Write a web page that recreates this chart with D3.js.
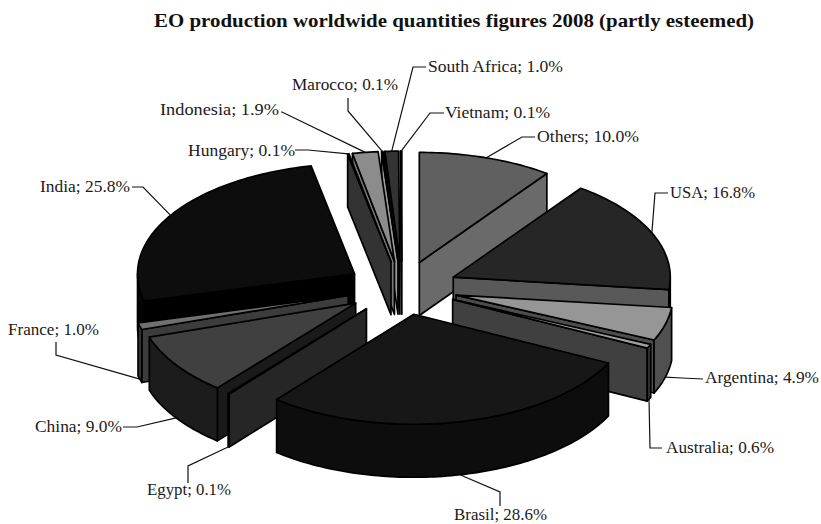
<!DOCTYPE html>
<html>
<head>
<meta charset="utf-8">
<script src="https://cdn.jsdelivr.net/npm/d3@7"></script>
<style type="text/css">
    html, body{ margin: 0; padding: 0; background: #fff }
    text{ font-family: "Liberation Serif", serif; fill: #1a1a1a }
    .label{ font-size: 16.5px }
    .title{ font-size: 19px; font-weight: bold; fill: #111 }
    .leader{ fill: none; stroke: #111; stroke-width: 1.2 }
    .face{ stroke: #000; stroke-width: 1.7; stroke-linejoin: round }
</style>
</head>
<body>
<script type="text/javascript">
var width = 821,
    height = 524;

var titleText = 'EO production worldwide quantities figures 2008 (partly esteemed)';

var countries = ['Others', 'USA', 'Argentina', 'Australia', 'Brasil', 'Egypt', 'China', 'France',
                 'India', 'Hungary', 'Indonesia', 'Marocco', 'South Africa', 'Vietnam'];
var shares = [10.0, 16.8, 4.9, 0.6, 28.6, 0.1, 9.0, 1.0, 25.8, 0.1, 1.9, 0.1, 1.0, 0.1];

// grey per slice: top, cut face, rim
var topGrey = ['#606060', '#262626', '#969696', '#a0a0a0', '#171717', '#555555', '#404040', '#707070',
               '#0d0d0d', '#909090', '#8c8c8c', '#b0b0b0', '#333333', '#111111'];
var cutGrey = ['#6a6a6a', '#595959', '#4d4d4d', '#404040', '#0d0d0d', '#262626', '#1a1a1a', '#3c3c3c',
               '#000000', '#333333', '#777777', '#999999', '#222222', '#000000'];
var rimGrey = ['#6a6a6a', '#0d0d0d', '#505050', '#333333', '#0d0d0d', '#222222', '#1c1c1c', '#333333',
               '#050505', '#333333', '#777777', '#999999', '#222222', '#000000'];

// label left edge, baseline and width, then the leader's bend points
var labelSpots = [[537, 142], [670, 198], [705, 383], [666, 453], [454, 520], [147, 495], [35, 432], [8, 335],
                  [40, 192], [188, 156], [160, 115], [292, 90], [428, 72], [445, 118]];
var labelWidths = [102, 85, 114, 108, 93, 84, 87, 91, 90, 107, 119, 106, 135, 105];
var leaderBends = [[[535, 137], [522, 137]], [[668, 193], [655, 193]], [[703, 379], [682, 378]], [[662, 448], [650, 448]],
                   [[500, 506], [500, 492]], [[188, 483], [188, 466]], [[123, 427], [137, 427]], [[56, 342], [56, 355]],
                   [[132, 187], [143, 187]], [[295, 150], [308, 150]], [[281, 112], [282, 112]], [[348, 98], [348, 111]],
                   [[426, 67], [413, 67]], [[444, 113], [430, 113]]];

var rx = 217, ry = 110, depth = 53, explode = 56, explodeTilt = 0.48;
var cx = 402, cy = 288;

var svg = d3.select('body')
    .append('svg')
        .attr('width', width)
        .attr('height', height);

svg.append('text')
    .attr('class', 'title')
    .attr('x', 154)
    .attr('y', 27)
    .attr('textLength', 600)
    .attr('lengthAdjust', 'spacingAndGlyphs')
    .text(titleText);

var pie = d3.pie().sort(null).startAngle(0).endAngle(2 * Math.PI);
var arcs = pie(shares);

// ellipse scales: unit circle to screen offsets
var sx = d3.scaleLinear().domain([-1, 1]).range([-rx, rx]);
var sy = d3.scaleLinear().domain([-1, 1]).range([-ry, ry]);

arcs.forEach(function(d, i){
    d.index = i;
    d.mid = (d.startAngle + d.endAngle) / 2;
    d.ax = cx + explode * Math.sin(d.mid);
    d.ay = cy - explode * Math.cos(d.mid) * explodeTilt;
});

function rimPoint(d, t, drop){
    return [d.ax + sx(Math.sin(t)), d.ay + sy(-Math.cos(t)) + (drop || 0)];
}

var line = d3.line();

function rimPoints(d, a, b, drop){
    var n = Math.max(2, Math.ceil((b - a) / 0.02));
    return d3.range(n + 1).map(function(k){ return rimPoint(d, a + (b - a) * k / n, drop); });
}

// back slices first
var order = arcs.slice().sort(function(a, b){ return d3.ascending(a.ay, b.ay); });

order.forEach(function(d){
    var g = svg.append('g');
    var a = d.startAngle, b = d.endAngle, i = d.index;

    function cutFace(t){
        var p = rimPoint(d, t);
        g.append('path').attr('class', 'face').attr('fill', cutGrey[i])
            .attr('d', line([[d.ax, d.ay], p, [p[0], p[1] + depth], [d.ax, d.ay + depth]]) + 'Z');
    }

    if (Math.sin(a) < 0) cutFace(a);
    if (Math.sin(b) > 0) cutFace(b);

    // the rim only shows on the near half of the ellipse
    var r0 = Math.max(a, Math.PI / 2), r1 = Math.min(b, 3 * Math.PI / 2);
    if (r1 > r0) {
        var upper = rimPoints(d, r0, r1, 0),
            lower = rimPoints(d, r0, r1, depth).reverse();
        g.append('path').attr('class', 'face').attr('fill', rimGrey[i])
            .attr('d', line(upper.concat(lower)) + 'Z');
    }

    g.append('path').attr('class', 'face').attr('fill', topGrey[i])
        .attr('d', line([[d.ax, d.ay]].concat(rimPoints(d, a, b, 0))) + 'Z');
});

// leaders and labels
arcs.forEach(function(d, i){
    var near = Math.cos(d.mid) < 0;
    var start = rimPoint(d, d.mid, near ? depth : 0);
    svg.append('path').attr('class', 'leader')
        .attr('d', line(leaderBends[i].concat([start])));
    svg.append('text').attr('class', 'label')
        .attr('x', labelSpots[i][0])
        .attr('y', labelSpots[i][1])
        .attr('textLength', labelWidths[i])
        .attr('lengthAdjust', 'spacingAndGlyphs')
        .text(countries[i] + '; ' + d3.format('.1f')(shares[i]) + '%');
});
</script>
</body>
</html>
